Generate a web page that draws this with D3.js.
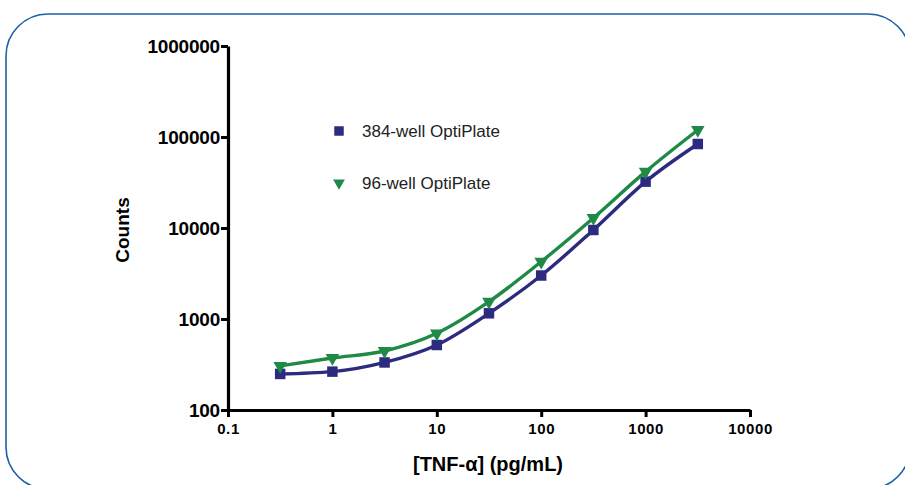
<!DOCTYPE html>
<head>
    <meta charset="utf-8">
    <script src="https://d3js.org/d3.v7.min.js"></script>
    <style>
        body { margin: 0; background: #fff; }
        text { font-family: "Liberation Sans", Arial, sans-serif; }
    </style>
</head>
<body>
    <svg class="chart" height="485" width="905"></svg>
    <script>

        // concentrations (pg/mL), half-log steps
        var conc = [0.316, 1, 3.16, 10, 31.6, 100, 316, 1000, 3162]
        var well384 = [249, 264, 333, 518, 1155, 3006, 9510, 32300, 83800]
        var well96 = [305, 373, 445, 696, 1550, 4265, 12880, 41600, 119400]
        var seriesNames = ["384-well OptiPlate", "96-well OptiPlate"]
        var xTicks = [0.1, 1, 10, 100, 1000, 10000]
        var yTicks = [100, 1000, 10000, 100000, 1000000]

        var navy = "#2d2b80"
        var green = "#1f8a45"

        var svg = d3.select("svg")

        // rounded frame
        svg.append("rect")
        .attr("x", 6).attr("y", 14)
        .attr("width", 904).attr("height", 475)
        .attr("rx", 42).attr("ry", 42)
        .style("fill", "none")
        .style("stroke", "#1b5fa8")
        .style("stroke-width", 1.6)

        var xScale = d3.scaleLog()
        .domain([0.1, 10000])
        .range([228, 750])

        var yScale = d3.scaleLog()
        .domain([100, 1000000])
        .range([410, 46])

        //generating the axis
        var xAxis = d3.axisBottom(xScale)
        .tickValues(xTicks)
        .tickFormat(d => d < 1 ? "0.1" : d3.format("d")(d))
        .tickSize(7)
        .tickSizeOuter(0)

        var gx = svg.append("g").attr("transform", "translate(0,410)").call(xAxis)
        gx.select(".domain").attr("stroke", "#000").attr("stroke-width", 3.2)
        gx.selectAll(".tick line").attr("stroke", "#000").attr("stroke-width", 3)
        gx.selectAll(".tick text")
        .attr("y", 13)
        .style("font-size", "15px")
        .style("font-weight", "bold")
        .style("letter-spacing", "0.6px")
        .attr("fill", "#000")

        var yAxis = d3.axisLeft(yScale)
        .tickValues(yTicks)
        .tickFormat(d3.format("d"))
        .tickSize(7)
        .tickSizeOuter(0)

        var gy = svg.append("g").attr("transform", "translate(228,0)").call(yAxis)
        gy.select(".domain").attr("stroke", "#000").attr("stroke-width", 3.2)
        gy.selectAll(".tick line").attr("stroke", "#000").attr("stroke-width", 3)
        gy.selectAll(".tick text")
        .attr("x", -8)
        .style("font-size", "19px")
        .style("font-weight", "bold")
        .style("letter-spacing", "-0.2px")
        .attr("fill", "#000")

        // axis titles
        svg.append("text")
        .attr("transform", "translate(129,230) rotate(-90)")
        .attr("text-anchor", "middle")
        .style("font-size", "19px")
        .style("font-weight", "bold")
        .text("Counts")

        svg.append("text")
        .attr("x", 488).attr("y", 471)
        .attr("text-anchor", "middle")
        .style("font-size", "20px")
        .style("font-weight", "bold")
        .text("[TNF-\u03b1] (pg/mL)")

        var series = [
            {name: seriesNames[0], values: well384, color: navy, shape: d3.symbolSquare},
            {name: seriesNames[1], values: well96, color: green, shape: d3.symbolTriangle}
        ]

        var line = d3.line()
        .x(d => xScale(d[0]))
        .y(d => yScale(d[1]))
        .curve(d3.curveMonotoneX)

        series.forEach(s => {
            var pts = conc.map((c, i) => [c, s.values[i]])
            svg.append("path")
            .attr("d", line(pts))
            .style("fill", "none")
            .style("stroke", s.color)
            .style("stroke-width", 3.4)

            var isTri = s.shape === d3.symbolTriangle
            svg.selectAll(null)
            .data(pts)
            .enter()
            .append("path")
            .attr("d", d3.symbol().type(s.shape).size(isTri ? 80 : 110))
            .attr("transform", d => `translate(${xScale(d[0])},${yScale(d[1])})` + (isTri ? " rotate(180)" : ""))
            .style("fill", s.color)
        })

        // legend
        var legend = svg.selectAll(".legend")
        .data(series)
        .enter()
        .append("g")
        .attr("transform", (d, i) => `translate(339,${131 + i * 52})`)

        legend.append("path")
        .attr("d", d => d3.symbol().type(d.shape).size(d.shape === d3.symbolTriangle ? 60 : 90)())
        .attr("transform", d => d.shape === d3.symbolTriangle ? "rotate(180)" : "")
        .style("fill", d => d.color)

        legend.append("text")
        .attr("x", 23)
        .attr("y", 6)
        .style("font-size", "17px")
        .attr("fill", "#222")
        .text(d => d.name)
    </script>
</body>
